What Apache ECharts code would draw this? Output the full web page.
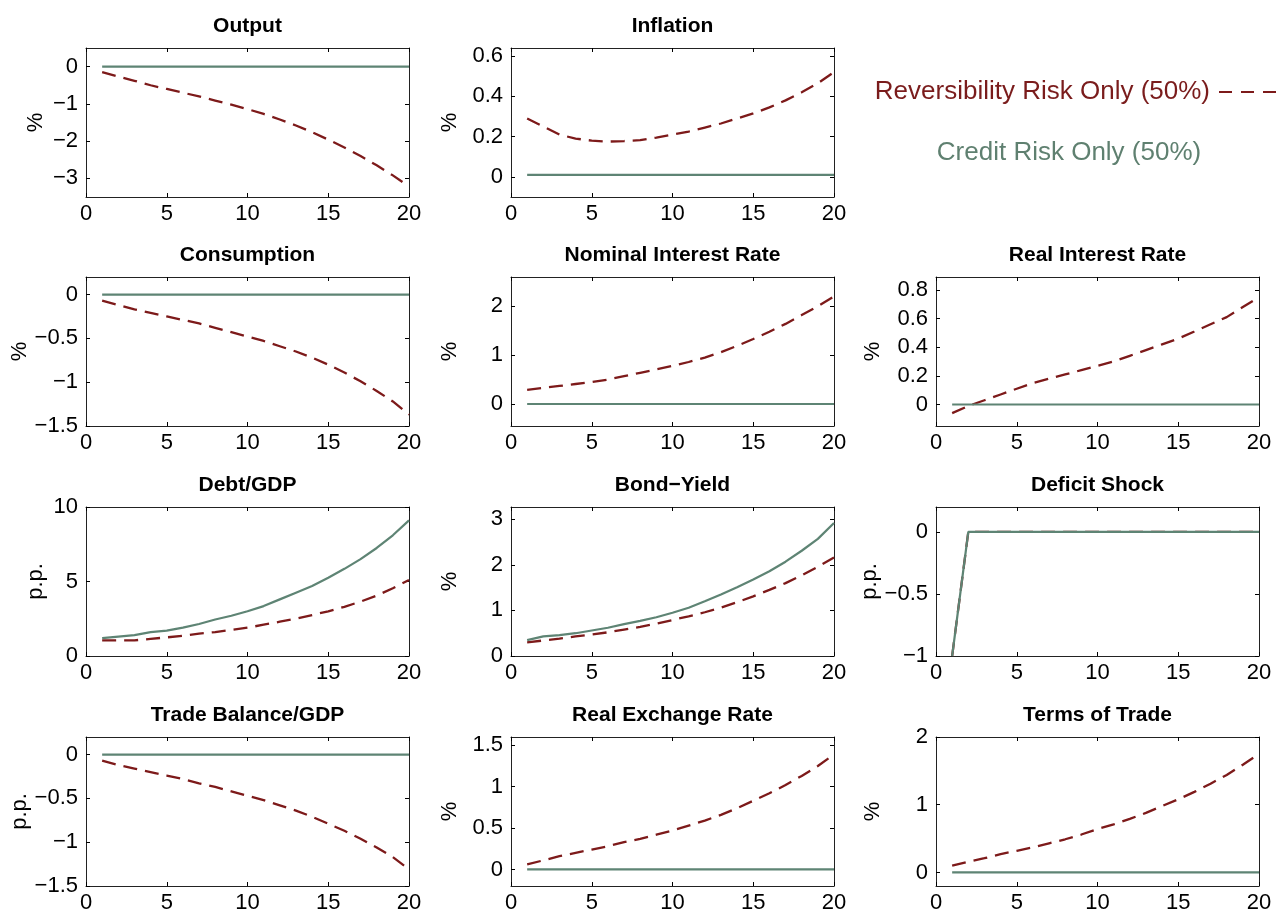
<!DOCTYPE html>
<html>
<head>
<meta charset="utf-8">
<script src="https://cdn.jsdelivr.net/npm/echarts@6/dist/echarts.min.js"></script>
<style>
html,body{margin:0;padding:0;background:#fff;}
#chart{width:1285px;height:914px;}
</style>
</head>
<body>
<div id="chart"></div>
<script>
// ---------- DATA ----------
const periods = [1,2,3,4,5,6,7,8,9,10,11,12,13,14,15,16,17,18,19,20];

const seriesNames = ["Reversibility Risk Only (50%)", "Credit Risk Only (50%)"];

const outputRev   = [-0.15,-0.27,-0.38,-0.50,-0.60,-0.70,-0.80,-0.91,-1.02,-1.14,-1.27,-1.42,-1.58,-1.76,-1.96,-2.17,-2.40,-2.65,-2.92,-3.22];
const outputCred  = [0,0,0,0,0,0,0,0,0,0,0,0,0,0,0,0,0,0,0,0];

const inflRev     = [0.29,0.25,0.21,0.19,0.18,0.175,0.178,0.182,0.195,0.21,0.225,0.245,0.265,0.29,0.315,0.345,0.38,0.42,0.465,0.52];
const inflCred    = [0.01,0.01,0.01,0.01,0.01,0.01,0.01,0.01,0.01,0.01,0.01,0.01,0.01,0.01,0.01,0.01,0.01,0.01,0.01,0.01];

const consRev     = [-0.07,-0.12,-0.17,-0.21,-0.25,-0.29,-0.33,-0.38,-0.43,-0.48,-0.53,-0.59,-0.65,-0.72,-0.80,-0.89,-0.99,-1.10,-1.22,-1.37];
const consCred    = [0,0,0,0,0,0,0,0,0,0,0,0,0,0,0,0,0,0,0,0];

const nomRev      = [0.29,0.33,0.37,0.41,0.45,0.50,0.57,0.64,0.71,0.78,0.86,0.95,1.06,1.19,1.33,1.48,1.64,1.82,2.00,2.20];
const nomCred     = [0,0,0,0,0,0,0,0,0,0,0,0,0,0,0,0,0,0,0,0];

const realRev     = [-0.06,-0.01,0.03,0.07,0.11,0.15,0.18,0.21,0.24,0.27,0.30,0.34,0.38,0.42,0.46,0.51,0.56,0.61,0.68,0.75];
const realCred    = [0,0,0,0,0,0,0,0,0,0,0,0,0,0,0,0,0,0,0,0];

const debtRev     = [1.05,1.05,1.05,1.15,1.25,1.35,1.5,1.6,1.75,1.9,2.1,2.3,2.5,2.75,3.0,3.3,3.65,4.05,4.55,5.1];
const debtCred    = [1.2,1.3,1.4,1.6,1.7,1.9,2.15,2.45,2.7,3.0,3.35,3.8,4.25,4.7,5.25,5.85,6.5,7.25,8.1,9.1];

const bondRev     = [0.3,0.34,0.38,0.43,0.47,0.52,0.58,0.64,0.71,0.79,0.87,0.96,1.06,1.18,1.31,1.45,1.6,1.77,1.96,2.16];
const bondCred    = [0.35,0.43,0.46,0.5,0.56,0.62,0.7,0.77,0.85,0.95,1.06,1.2,1.35,1.51,1.68,1.86,2.07,2.31,2.57,2.92];

const defRev      = [-1,0,0,0,0,0,0,0,0,0,0,0,0,0,0,0,0,0,0,0];
const defCred     = [-1,0,0,0,0,0,0,0,0,0,0,0,0,0,0,0,0,0,0,0];

const tradeRev    = [-0.07,-0.12,-0.16,-0.20,-0.24,-0.28,-0.33,-0.37,-0.42,-0.47,-0.52,-0.58,-0.64,-0.71,-0.79,-0.87,-0.96,-1.06,-1.17,-1.31];
const tradeCred   = [0,0,0,0,0,0,0,0,0,0,0,0,0,0,0,0,0,0,0,0];

const rerRev      = [0.06,0.11,0.16,0.20,0.24,0.28,0.33,0.37,0.42,0.47,0.53,0.59,0.66,0.74,0.83,0.92,1.02,1.13,1.25,1.39];
const rerCred     = [0,0,0,0,0,0,0,0,0,0,0,0,0,0,0,0,0,0,0,0];

const totRev      = [0.1,0.16,0.21,0.27,0.32,0.37,0.43,0.49,0.56,0.64,0.71,0.79,0.88,0.98,1.08,1.19,1.31,1.44,1.59,1.75];
const totCred     = [0,0,0,0,0,0,0,0,0,0,0,0,0,0,0,0,0,0,0,0];

const xTicks = [0,5,10,15,20];

const panels = [
  {title:"Output", unit:"%", row:0, col:0, min:-3.5, max:0.5, ticks:[-3,-2,-1,0], rev:outputRev, cred:outputCred},
  {title:"Inflation", unit:"%", row:0, col:1, min:-0.1, max:0.64, ticks:[0,0.2,0.4,0.6], rev:inflRev, cred:inflCred},
  {title:"Consumption", unit:"%", row:1, col:0, min:-1.5, max:0.2, ticks:[-1.5,-1,-0.5,0], rev:consRev, cred:consCred},
  {title:"Nominal Interest Rate", unit:"%", row:1, col:1, min:-0.45, max:2.6, ticks:[0,1,2], rev:nomRev, cred:nomCred},
  {title:"Real Interest Rate", unit:"%", row:1, col:2, min:-0.15, max:0.89, ticks:[0,0.2,0.4,0.6,0.8], rev:realRev, cred:realCred},
  {title:"Debt/GDP", unit:"p.p.", row:2, col:0, min:0, max:10, ticks:[0,5,10], rev:debtRev, cred:debtCred},
  {title:"Bond\u2212Yield", unit:"%", row:2, col:1, min:0, max:3.27, ticks:[0,1,2,3], rev:bondRev, cred:bondCred},
  {title:"Deficit Shock", unit:"p.p.", row:2, col:2, min:-1, max:0.2, ticks:[-1,-0.5,0], rev:defRev, cred:defCred},
  {title:"Trade Balance/GDP", unit:"p.p.", row:3, col:0, min:-1.5, max:0.2, ticks:[-1.5,-1,-0.5,0], rev:tradeRev, cred:tradeCred},
  {title:"Real Exchange Rate", unit:"%", row:3, col:1, min:-0.2, max:1.6, ticks:[0,0.5,1,1.5], rev:rerRev, cred:rerCred},
  {title:"Terms of Trade", unit:"%", row:3, col:2, min:-0.2, max:2, ticks:[0,1,2], rev:totRev, cred:totCred}
];

// ---------- LAYOUT / STYLE ----------
const FONT = "'Liberation Sans', Arial, Helvetica, sans-serif";
const RED = "#7d1a1a";
const GREEN = "#5e8474";
const colLeft = [86, 511, 936];
const rowTop = [48, 277, 507, 737];
const W = 323, H = 149;
const nameX = [37, 451, 874];

function fmt(v){
  let s = String(Math.round(v*1000)/1000);
  return s.replace('-', '\u2212');
}

const grid = [], xAxis = [], yAxis = [], series = [], title = [];
panels.forEach((p, i) => {
  const left = colLeft[p.col], top = rowTop[p.row];
  grid.push({left:left, top:top, width:W, height:H, containLabel:false});
  title.push({
    text:p.title, left:left + W/2 - 5, top:top - 37, textAlign:'center',
    textStyle:{fontFamily:FONT, fontSize:21, fontWeight:'bold', color:'#000'}
  });
  const tickStyle = {show:true, inside:true, length:4, lineStyle:{color:'#000', width:1}};
  const lineStyle = {show:true, onZero:false, lineStyle:{color:'#222', width:1}};
  // bottom x axis
  xAxis.push({
    type:'value', gridIndex:i, position:'bottom', min:0, max:20, interval:5,
    axisLine:lineStyle, axisTick:tickStyle, splitLine:{show:false},
    axisLabel:{show:true, margin:6, fontFamily:FONT, fontSize:22, color:'#000', formatter:fmt, customValues:xTicks}
  });
  // top x axis (box + ticks)
  xAxis.push({
    type:'value', gridIndex:i, position:'top', min:0, max:20, interval:5,
    axisLine:lineStyle, axisTick:tickStyle, splitLine:{show:false}, axisLabel:{show:false}
  });
  // left y axis
  yAxis.push({
    type:'value', gridIndex:i, position:'left', min:p.min, max:p.max,
    name:p.unit, nameLocation:'middle', nameRotate:90,
    nameGap: left - nameX[p.col] - 10,
    nameTextStyle:{fontFamily:FONT, fontSize:22, color:'#000'},
    axisLine:lineStyle,
    axisTick:Object.assign({}, tickStyle, {customValues:p.ticks}),
    splitLine:{show:false},
    axisLabel:{show:true, margin:8, fontFamily:FONT, fontSize:22, color:'#000', formatter:fmt, customValues:p.ticks}
  });
  // right y axis
  yAxis.push({
    type:'value', gridIndex:i, position:'right', min:p.min, max:p.max,
    axisLine:lineStyle,
    axisTick:Object.assign({}, tickStyle, {customValues:p.ticks}),
    splitLine:{show:false}, axisLabel:{show:false}
  });
  series.push({
    name:seriesNames[0], type:'line', xAxisIndex:2*i, yAxisIndex:2*i,
    data:periods.map((x,k)=>[x, p.rev[k]]), showSymbol:false, symbol:'none',
    lineStyle:{color:RED, width:2.3, type:[14,8]}, smooth:false, silent:true, z:2
  });
  series.push({
    name:seriesNames[1], type:'line', xAxisIndex:2*i, yAxisIndex:2*i,
    data:periods.map((x,k)=>[x, p.cred[k]]), showSymbol:false, symbol:'none',
    lineStyle:{color:GREEN, width:2.2}, smooth:false, silent:true, z:3
  });
});

const chart = echarts.init(document.getElementById('chart'), null, {renderer:'canvas'});
chart.setOption({
  backgroundColor:'#fff',
  animation:false,
  title:title,
  grid:grid, xAxis:xAxis, yAxis:yAxis, series:series,
  graphic:[
    {type:'text', x:1210, y:92, style:{text:seriesNames[0], fontFamily:FONT, fontSize:26, fill:'#7a1c1c', align:'right', verticalAlign:'middle'}},
    {type:'line', shape:{x1:1219, y1:92, x2:1284, y2:92}, style:{stroke:RED, lineWidth:2, lineDash:[13,9]}},
    {type:'text', x:1069, y:153, style:{text:seriesNames[1], fontFamily:FONT, fontSize:26, fill:'#5f8070', align:'center', verticalAlign:'middle'}}
  ]
});
</script>
</body>
</html>
